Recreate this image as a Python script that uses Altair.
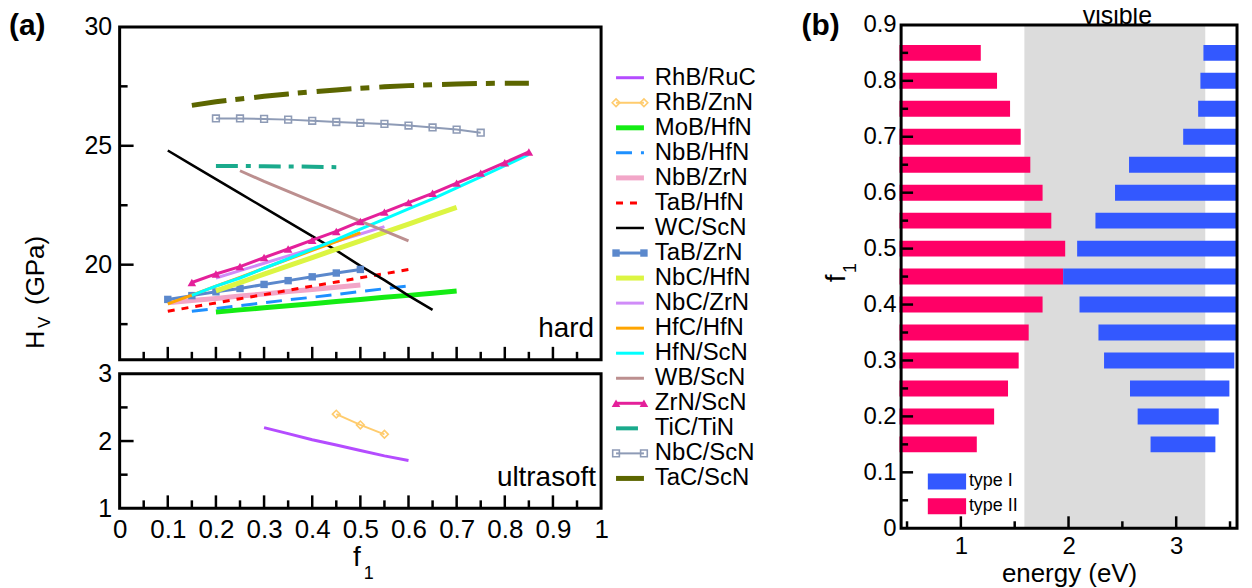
import altair as alt
import pandas as pd

FONT = "Liberation Sans"

# ---------------- panel (a): series ----------------
NAMES = ["RhB/RuC", "RhB/ZnN", "MoB/HfN", "NbB/HfN", "NbB/ZrN", "TaB/HfN", "WC/ScN",
         "TaB/ZrN", "NbC/HfN", "NbC/ZrN", "HfC/HfN", "HfN/ScN", "WB/ScN", "ZrN/ScN",
         "TiC/TiN", "NbC/ScN", "TaC/ScN"]
COLORS = ["#b44cff", "#ffcc6e", "#14ec14", "#1e90ff", "#f2a6c8", "#ff0000", "#000000",
          "#5b88cc", "#dcf542", "#d08cf8", "#ffa500", "#00ffff", "#bc8f8f", "#e4209a",
          "#1aaa8c", "#8e9bb6", "#5c6600"]
WIDTHS = [3, 2, 5, 3, 5, 3, 2.5, 3, 5, 3, 3, 3, 3, 3, 4, 2, 5]
DASHES = [None, None, None, [16, 9], None, [7, 7], None, None, None, None, None, None,
          None, None, [22, 8, 5, 8], None, [35, 9, 9, 10]]
ULTRASOFT = ["RhB/RuC", "RhB/ZnN"]
MARKERS = {"RhB/ZnN": ("diamond", False, 60),
           "TaB/ZrN": ("square", True, 55),
           "ZrN/ScN": ("triangle-up", True, 75),
           "NbC/ScN": ("square", False, 45)}

F_RHB_RUC = [0.30, 0.35, 0.40, 0.45, 0.50, 0.55, 0.60]
H_RHB_RUC = [2.20, 2.11, 2.02, 1.94, 1.86, 1.78, 1.71]
F_RHB_ZNN = [0.45, 0.50, 0.55]
H_RHB_ZNN = [2.40, 2.24, 2.10]
F_MOB_HFN = [0.20, 0.25, 0.30, 0.35, 0.40, 0.45, 0.50, 0.55, 0.60, 0.65, 0.70]
H_MOB_HFN = [18.01, 18.10, 18.19, 18.27, 18.36, 18.45, 18.54, 18.63, 18.71, 18.80, 18.89]
F_NBB_HFN = [0.15, 0.20, 0.25, 0.30, 0.35, 0.40, 0.45, 0.50, 0.55, 0.60]
H_NBB_HFN = [18.04, 18.16, 18.28, 18.40, 18.52, 18.63, 18.75, 18.87, 18.99, 19.11]
F_NBB_ZRN = [0.10, 0.15, 0.20, 0.25, 0.30, 0.35, 0.40, 0.45, 0.50]
H_NBB_ZRN = [18.40, 18.49, 18.58, 18.68, 18.77, 18.87, 18.96, 19.05, 19.15]
F_TAB_HFN = [0.10, 0.15, 0.20, 0.25, 0.30, 0.35, 0.40, 0.45, 0.50, 0.55, 0.60]
H_TAB_HFN = [18.04, 18.22, 18.39, 18.57, 18.74, 18.92, 19.10, 19.27, 19.45, 19.62, 19.80]
F_WC_SCN = [0.10, 0.15, 0.20, 0.25, 0.30, 0.35, 0.40, 0.45, 0.50, 0.55, 0.60, 0.65]
H_WC_SCN = [24.80, 24.20, 23.60, 23.00, 22.40, 21.80, 21.20, 20.60, 19.95, 19.35, 18.70, 18.10]
F_TAB_ZRN = [0.10, 0.15, 0.20, 0.25, 0.30, 0.35, 0.40, 0.45, 0.50]
H_TAB_ZRN = [18.54, 18.70, 18.86, 19.00, 19.17, 19.33, 19.49, 19.65, 19.80]
F_NBC_HFN = [0.20, 0.25, 0.30, 0.35, 0.40, 0.45, 0.50, 0.55, 0.60, 0.65, 0.70]
H_NBC_HFN = [18.90, 19.25, 19.60, 19.95, 20.30, 20.65, 21.00, 21.36, 21.71, 22.06, 22.41]
F_NBC_ZRN = [0.20, 0.25, 0.30, 0.35, 0.40, 0.45, 0.50, 0.55]
H_NBC_ZRN = [19.44, 19.75, 20.06, 20.37, 20.67, 20.98, 21.29, 21.60]
F_HFC_HFN = [0.10, 0.15, 0.20, 0.25, 0.30, 0.35, 0.40, 0.45, 0.50]
H_HFC_HFN = [18.35, 18.72, 19.10, 19.47, 19.85, 20.22, 20.60, 20.97, 21.35]
F_HFN_SCN = [0.15, 0.20, 0.25, 0.30, 0.35, 0.40, 0.45, 0.50, 0.55, 0.60, 0.65, 0.70, 0.75, 0.80, 0.85]
H_HFN_SCN = [18.71, 19.10, 19.44, 19.85, 20.25, 20.65, 21.05, 21.50, 21.92, 22.35, 22.77, 23.23, 23.69, 24.16, 24.64]
F_WB_SCN = [0.25, 0.30, 0.35, 0.40, 0.45, 0.50, 0.55, 0.60]
H_WB_SCN = [23.95, 23.50, 23.08, 22.66, 22.25, 21.83, 21.42, 21.00]
F_ZRN_SCN = [0.15, 0.20, 0.25, 0.30, 0.35, 0.40, 0.45, 0.50, 0.55, 0.60, 0.65, 0.70, 0.75, 0.80, 0.85]
H_ZRN_SCN = [19.25, 19.61, 19.92, 20.30, 20.66, 21.03, 21.40, 21.82, 22.21, 22.61, 23.00, 23.43, 23.85, 24.29, 24.74]
F_TIC_TIN = [0.20, 0.25, 0.30, 0.35, 0.40, 0.45]
H_TIC_TIN = [24.15, 24.15, 24.14, 24.13, 24.12, 24.10]
F_NBC_SCN = [0.20, 0.25, 0.30, 0.35, 0.40, 0.45, 0.50, 0.55, 0.60, 0.65, 0.70, 0.75]
H_NBC_SCN = [26.15, 26.15, 26.13, 26.10, 26.05, 26.00, 25.96, 25.92, 25.85, 25.77, 25.68, 25.55]
F_TAC_SCN = [0.15, 0.20, 0.25, 0.30, 0.35, 0.40, 0.45, 0.50, 0.55, 0.60, 0.65, 0.70, 0.75, 0.80, 0.85]
H_TAC_SCN = [26.70, 26.85, 26.97, 27.08, 27.18, 27.27, 27.35, 27.42, 27.48, 27.53, 27.57, 27.60, 27.62, 27.63, 27.63]

# axes of panel (a)
XA_DOM = [0, 1]
XA_LABELS = [0, 0.1, 0.2, 0.3, 0.4, 0.5, 0.6, 0.7, 0.8, 0.9, 1]
XA_MAJOR = [0.1, 0.2, 0.3, 0.4, 0.5, 0.6, 0.7, 0.8, 0.9]
XA_MINOR = [0.05, 0.15, 0.25, 0.35, 0.45, 0.55, 0.65, 0.75, 0.85, 0.95]
YT_DOM = [16, 30]
YT_LABELS = [20, 25, 30]
YT_MAJOR = [20, 25]
YT_MINOR = [17.5, 22.5, 27.5]
YB_DOM = [1, 3]
YB_LABELS = [1, 2, 3]
YB_MAJOR = [2]
YB_MINOR = [1.5, 2.5]

# ---------------- panel (b): band edges ----------------
F1_B = [0.15, 0.20, 0.25, 0.30, 0.35, 0.40, 0.45, 0.50, 0.55, 0.60, 0.65, 0.70, 0.75, 0.80, 0.85]
TYPE2_START = [0.43] * 15
TYPE2_END = [1.148, 1.309, 1.438, 1.537, 1.630, 1.759, 1.950, 1.969, 1.840, 1.759, 1.645, 1.556, 1.457, 1.336, 1.185]
TYPE1_START = [2.762, 2.642, 2.571, 2.330, 2.278, 2.102, 1.950, 2.080, 2.250, 2.432, 2.562, 3.065, 3.204, 3.225, 3.253]
TYPE1_END = [3.364, 3.395, 3.494, 3.540, 3.570, 3.570, 3.570, 3.570, 3.570, 3.570, 3.570, 3.570, 3.570, 3.570, 3.570]
VISIBLE = [1.59, 3.27]
E_DOM = [0.445, 3.565]
EB_LABELS = [1, 2, 3]
EB_MAJOR = [1, 2, 3]
EB_MINOR = [0.5, 1.5, 2.5, 3.5]
FB_DOM = [0, 0.9]
FB_LABELS = [0, 0.1, 0.2, 0.3, 0.4, 0.5, 0.6, 0.7, 0.8, 0.9]
FB_MAJOR = [0.1, 0.2, 0.3, 0.4, 0.5, 0.6, 0.7, 0.8]
FB_MINOR = [0.05, 0.15, 0.25, 0.35, 0.45, 0.55, 0.65, 0.75, 0.85]
TYPES = ["type I", "type II"]
TYPE_COLORS = ["#3358ff", "#ff0066"]

SERIES_F = [F_RHB_RUC, F_RHB_ZNN, F_MOB_HFN, F_NBB_HFN, F_NBB_ZRN, F_TAB_HFN, F_WC_SCN,
            F_TAB_ZRN, F_NBC_HFN, F_NBC_ZRN, F_HFC_HFN, F_HFN_SCN, F_WB_SCN, F_ZRN_SCN,
            F_TIC_TIN, F_NBC_SCN, F_TAC_SCN]
SERIES_H = [H_RHB_RUC, H_RHB_ZNN, H_MOB_HFN, H_NBB_HFN, H_NBB_ZRN, H_TAB_HFN, H_WC_SCN,
            H_TAB_ZRN, H_NBC_HFN, H_NBC_ZRN, H_HFC_HFN, H_HFN_SCN, H_WB_SCN, H_ZRN_SCN,
            H_TIC_TIN, H_NBC_SCN, H_TAC_SCN]

rows = []
for name, fs, hs in zip(NAMES, SERIES_F, SERIES_H):
    for f, h in zip(fs, hs):
        rows.append({"name": name, "f": f, "H": h})
lines_df = pd.DataFrame(rows)

# ---------------- scales / axes ----------------
XA_SCALE = alt.Scale(domain=XA_DOM, nice=False, zero=False)
XA_AXIS = alt.Axis(values=XA_LABELS, format="~g", labelFontSize=26, labelFont=FONT,
                   labelColor="black", ticks=False, domain=False, grid=False,
                   labelPadding=8, labelFlush=False, labelOverlap=False, title=None)
YT_SCALE = alt.Scale(domain=YT_DOM, range=[336, 2], nice=False, zero=False)
YT_AXIS = alt.Axis(values=YT_LABELS, format="~g", labelFontSize=25, labelFont=FONT,
                   labelColor="black", ticks=False, domain=False, grid=False, labelPadding=8,
                   labelFlush=False, labelOverlap=False, title=None, orient="left")
YB_SCALE = alt.Scale(domain=YB_DOM, range=[485, 350], nice=False, zero=False)
YB_AXIS = alt.Axis(values=YB_LABELS, format="~g", labelFontSize=25, labelFont=FONT,
                   labelColor="black", ticks=False, domain=False, grid=False, labelPadding=8,
                   labelFlush=False, labelOverlap=False, title=None, orient="left")


def xa(field):
    return alt.X(field, type="quantitative", scale=XA_SCALE, axis=XA_AXIS)


def yt(field):
    return alt.Y(field, type="quantitative", scale=YT_SCALE, axis=YT_AXIS)


def yb(field):
    return alt.Y(field, type="quantitative", scale=YB_SCALE, axis=YB_AXIS)


def label(text, x, y, size, angle=0, align="left", weight="normal", baseline="alphabetic"):
    return alt.Chart(pd.DataFrame({"t": [text]})).mark_text(
        align=align, baseline=baseline, angle=angle, fontSize=size, font=FONT,
        fontWeight=weight, color="black"
    ).encode(text="t:N", x=alt.value(x), y=alt.value(y))


def style_kw(i):
    kw = dict(color=COLORS[i], strokeWidth=WIDTHS[i])
    if DASHES[i] is not None:
        kw["strokeDash"] = DASHES[i]
    return kw


def panel_a(names, ychan, ydom, xmaj, xmin, ymaj, ymin):
    span = ydom[1] - ydom[0]
    layers = []
    for i, name in enumerate(NAMES):
        if name not in names:
            continue
        base = alt.Chart(lines_df).transform_filter(alt.datum.name == name)
        layers.append(base.mark_line(**style_kw(i)).encode(x=xa("f"), y=ychan("H")))
        if name in MARKERS:
            shp, filled, size = MARKERS[name]
            layers.append(base.mark_point(shape=shp, filled=filled, size=size, color=COLORS[i],
                                          strokeWidth=1.6, opacity=1).encode(x=xa("f"), y=ychan("H")))
    # inward ticks (lengths in pixels converted to data units)
    px_y = span / (336 - 2) if ydom == YT_DOM else span / (485 - 350)
    px_x = 1 / 483
    xt = pd.DataFrame({"pos": xmaj + xmin,
                       "a": [ydom[0]] * (len(xmaj) + len(xmin)),
                       "b": [ydom[0] + 13 * px_y] * len(xmaj) + [ydom[0] + 8 * px_y] * len(xmin)})
    yt_ = pd.DataFrame({"pos": ymaj + ymin,
                        "a": [XA_DOM[0]] * (len(ymaj) + len(ymin)),
                        "b": [XA_DOM[0] + 14 * px_x] * len(ymaj) + [XA_DOM[0] + 8 * px_x] * len(ymin)})
    layers.append(alt.Chart(xt).mark_rule(color="black", strokeWidth=2.5).encode(
        x=xa("pos"), y=ychan("a"), y2=alt.Y2("b")))
    layers.append(alt.Chart(yt_).mark_rule(color="black", strokeWidth=2.5).encode(
        y=ychan("pos"), x=xa("a"), x2=alt.X2("b")))
    frame = pd.DataFrame({"x0": [XA_DOM[0]], "x1": [XA_DOM[1]], "y0": [ydom[0]], "y1": [ydom[1]]})
    layers.append(alt.Chart(frame).mark_rect(fill="white", fillOpacity=0, stroke="black",
                                             strokeWidth=3).encode(
        x=xa("x0"), x2=alt.X2("x1"), y=ychan("y0"), y2=alt.Y2("y1")))
    return alt.layer(*layers)


hard_names = [n for n in NAMES if n not in ULTRASOFT]
top = panel_a(hard_names, yt, YT_DOM, XA_MAJOR, XA_MINOR, YT_MAJOR, YT_MINOR)
bottom = panel_a(ULTRASOFT, yb, YB_DOM, XA_MAJOR, XA_MINOR, YB_MAJOR, YB_MINOR)

col_a = alt.layer(
    top, bottom,
    label("hard", 476, 313, 28, align="right"),
    label("ultrasoft", 478, 463, 28, align="right"),
    label("(a)", -111, 10, 30, weight="bold"),
    label("H", -76, 325, 25, angle=270),
    label("V", -70, 304, 17, angle=270),
    label("(GPa)", -76, 281, 26, angle=270),
    label("f", 234, 543, 28),
    label("1", 245, 556, 18),
).resolve_scale(y="independent").properties(width=483, height=485)

# ---------------- legend of panel (a) ----------------
leg_df = pd.DataFrame({"name": NAMES, "idx": list(range(len(NAMES)))})
LX = alt.Scale(domain=[0, 1], range=[5, 33])
LY = alt.Scale(domain=[0, len(NAMES) - 1], range=[53, 455])
mk_rows = []
for n in MARKERS:
    for end in [0, 1]:
        mk_rows.append({"name": n, "idx": NAMES.index(n), "end": end})
mk_df = pd.DataFrame(mk_rows)

leg_layers = []
for i, name in enumerate(NAMES):
    leg_layers.append(
        alt.Chart(leg_df).transform_filter(alt.datum.name == name).mark_rule(**style_kw(i)).encode(
            x=alt.X(datum=0, type="quantitative", scale=LX, axis=None),
            x2=alt.X2(datum=1),
            y=alt.Y("idx:Q", scale=LY, axis=None)))
    if name in MARKERS:
        shp, filled, size = MARKERS[name]
        leg_layers.append(
            alt.Chart(mk_df).transform_filter(alt.datum.name == name).mark_point(
                shape=shp, filled=filled, size=size, color=COLORS[i], strokeWidth=1.6, opacity=1
            ).encode(x=alt.X("end:Q", scale=LX, axis=None), y=alt.Y("idx:Q", scale=LY, axis=None)))
leg_layers.append(
    alt.Chart(leg_df).mark_text(align="left", baseline="middle", fontSize=24, font=FONT,
                                color="black").encode(
        x=alt.X(datum=1.39, type="quantitative", scale=LX, axis=None),
        y=alt.Y("idx:Q", scale=LY, axis=None), text="name:N"))
legend_chart = alt.layer(*leg_layers).properties(width=281, height=505)

# ---------------- panel (b) ----------------
EB_SCALE = alt.Scale(domain=E_DOM, nice=False, zero=False)
FB_SCALE = alt.Scale(domain=FB_DOM, nice=False, zero=False)
EB_AXIS = alt.Axis(values=EB_LABELS, labelFontSize=24, labelFont=FONT, labelColor="black",
                   ticks=False, domain=False, grid=False, labelPadding=6, labelFlush=False,
                   title="energy (eV)", titleFont=FONT, titleFontSize=26,
                   titleFontWeight="normal", titleColor="black", titlePadding=2)
FB_AXIS = alt.Axis(values=FB_LABELS, format="~g", labelFontSize=24, labelFont=FONT,
                   labelColor="black", ticks=False, domain=False, grid=False, labelPadding=5,
                   labelFlush=False, labelOverlap=False, title=None)


def xb(field):
    return alt.X(field, type="quantitative", scale=EB_SCALE, axis=EB_AXIS)


def ybb(field):
    return alt.Y(field, type="quantitative", scale=FB_SCALE, axis=FB_AXIS)


bar_rows = []
for f, s2, e2, s1, e1 in zip(F1_B, TYPE2_START, TYPE2_END, TYPE1_START, TYPE1_END):
    bar_rows.append({"f": f, "x0": s2, "x1": e2, "type": "type II"})
    bar_rows.append({"f": f, "x0": s1, "x1": e1, "type": "type I"})
bars_df = pd.DataFrame(bar_rows)
BAR_HALF = 8 / 561.1  # half bar thickness in f units

band = alt.Chart(pd.DataFrame({"x0": [VISIBLE[0]], "x1": [VISIBLE[1]],
                               "y0": [FB_DOM[0]], "y1": [FB_DOM[1]]})).mark_rect(
    color="#dcdcdc").encode(x=xb("x0"), x2=alt.X2("x1"), y=ybb("y0"), y2=alt.Y2("y1"))

bars = alt.Chart(bars_df).transform_calculate(
    ylo=f"datum.f - {BAR_HALF}", yhi=f"datum.f + {BAR_HALF}"
).mark_rect(opacity=1).encode(
    x=xb("x0"), x2=alt.X2("x1"), y=ybb("ylo:Q"), y2=alt.Y2("yhi:Q"),
    color=alt.Color("type:N", scale=alt.Scale(domain=TYPES, range=TYPE_COLORS),
                    legend=alt.Legend(orient="none", legendX=37, legendY=449, title=None,
                                      symbolType="M-2.4,-1L2.4,-1L2.4,1L-2.4,1Z",
                                      symbolSize=256, symbolStrokeWidth=0, symbolOpacity=1,
                                      labelFontSize=18, labelFont=FONT, labelColor="black",
                                      labelOffset=13, rowPadding=7, padding=0)))

pxe = (E_DOM[1] - E_DOM[0]) / 337
pxf = (FB_DOM[1] - FB_DOM[0]) / 505
ytb = pd.DataFrame({"pos": FB_MAJOR + FB_MINOR,
                    "a": [E_DOM[0]] * (len(FB_MAJOR) + len(FB_MINOR)),
                    "b": [E_DOM[0] + 12 * pxe] * len(FB_MAJOR) + [E_DOM[0] + 7 * pxe] * len(FB_MINOR)})
xtb = pd.DataFrame({"pos": EB_MAJOR + EB_MINOR,
                    "a": [FB_DOM[0]] * (len(EB_MAJOR) + len(EB_MINOR)),
                    "b": [FB_DOM[0] + 12 * pxf] * len(EB_MAJOR) + [FB_DOM[0] + 7 * pxf] * len(EB_MINOR)})
ticks_b_y = alt.Chart(ytb).mark_rule(color="black", strokeWidth=2.5).encode(
    y=ybb("pos"), x=xb("a"), x2=alt.X2("b"))
ticks_b_x = alt.Chart(xtb).mark_rule(color="black", strokeWidth=2.5).encode(
    x=xb("pos"), y=ybb("a"), y2=alt.Y2("b"))
frame_b = alt.Chart(pd.DataFrame({"x0": [E_DOM[0]], "x1": [E_DOM[1]],
                                  "y0": [FB_DOM[0]], "y1": [FB_DOM[1]]})).mark_rect(
    fill="white", fillOpacity=0, stroke="black", strokeWidth=3).encode(
    x=xb("x0"), x2=alt.X2("x1"), y=ybb("y0"), y2=alt.Y2("y1"))

panel_b = alt.layer(
    band, bars, ticks_b_y, ticks_b_x, frame_b,
    label("visible", 217, -1, 25, align="center"),
    label("(b)", -100, 10, 30, weight="bold"),
    label("f", -56, 258, 27, angle=270),
    label("1", -45, 249, 18, angle=270),
).properties(width=337, height=505)

chart = alt.hconcat(col_a, legend_chart, panel_b, spacing=10, bounds="flush").resolve_legend(
    color="independent"
).properties(
    padding={"left": 0, "top": -6, "right": 5, "bottom": 5}
).configure_view(stroke="transparent")

chart.save("out.html", embed_options={"renderer": "svg", "actions": False})
